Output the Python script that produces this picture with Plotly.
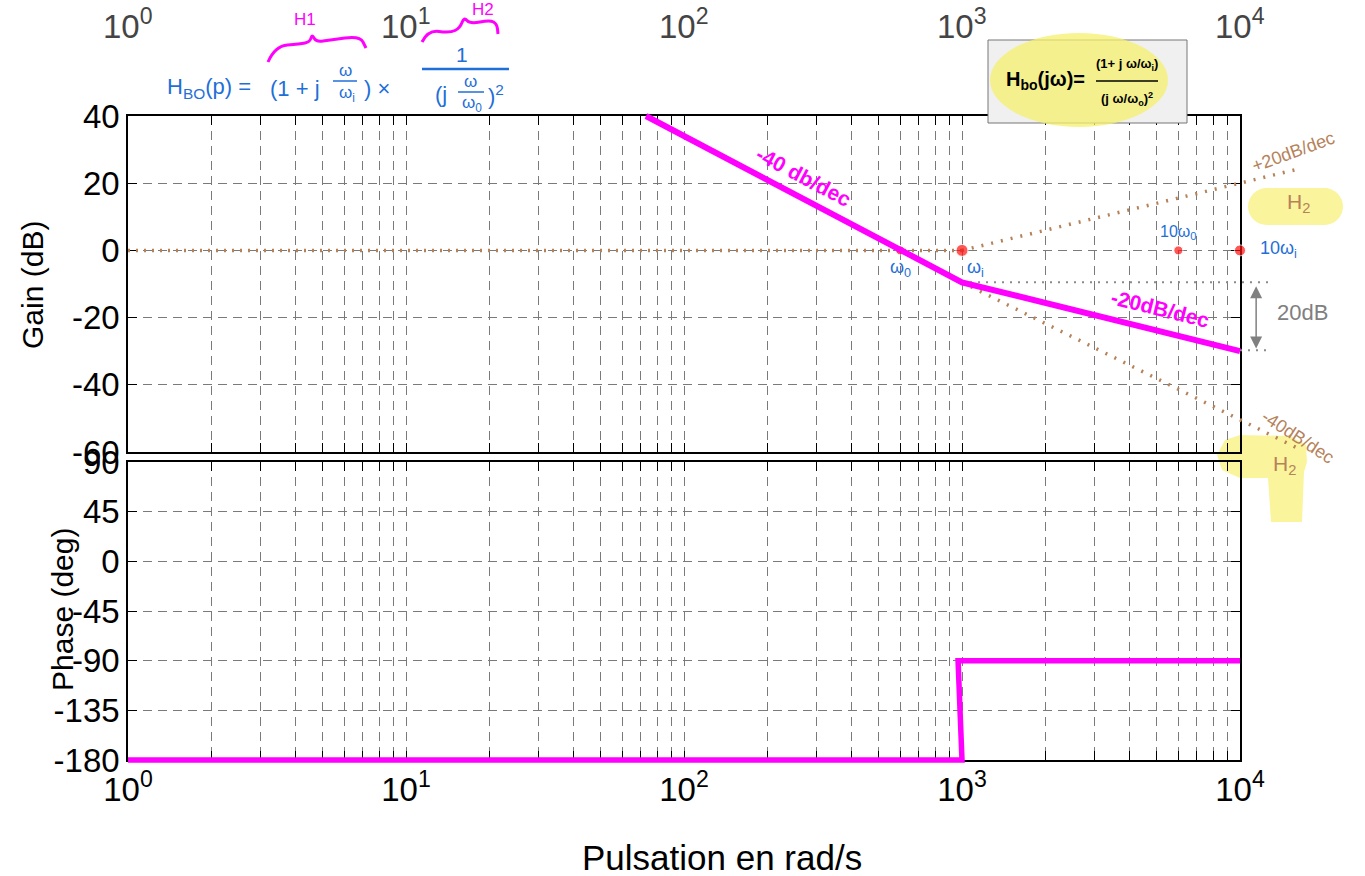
import math
import plotly.graph_objects as go

# ---------------- data ----------------
decades = [1, 10, 100, 1000, 10000]
decade_labels = ["10<sup>0</sup>", "10<sup>1</sup>", "10<sup>2</sup>", "10<sup>3</sup>", "10<sup>4</sup>"]
minor_vals = [k * 10 ** d for d in range(4) for k in range(2, 10)]
gain_ticks = [-60, -40, -20, 0, 20, 40]
phase_ticks = [-180, -135, -90, -45, 0, 45, 90]

gain_w = [73, 1000, 10000]            # asymptotic gain (magenta)
gain_db = [40, -9.5, -30]
phase_w = [1, 1000, 968, 10000]       # asymptotic phase (magenta)
phase_deg = [-180, -180, -90, -90]

flat_w = [1, 1000]                    # 0 dB asymptote (brown dotted)
flat_db = [0, 0]
h1_w = [1000, 15800]                  # +20 dB/dec asymptote
h1_db = [0, 24]
h2_w = [1000, 16700]                  # -40 dB/dec asymptote
h2_db = [-9.5, -59.5]
ref_hi_w = [1000, 13000]              # gray dotted references
ref_hi_db = [-9.5, -9.5]
ref_lo_w = [10000, 13000]
ref_lo_db = [-29.7, -29.7]
pts_w = [600, 1000, 6000, 10000]      # w0, wi, 10w0, 10wi
pts_db = [0, 0, 0, 0]
pts_size = [9, 12, 9, 11]

# ---------------- geometry ----------------
W, H = 1365, 876
def fx(p): return p / W
def fy(p): return 1 - p / H

xd = [fx(128), fx(1240)]
gd = [fy(452), fy(116)]
pd = [fy(760), fy(462)]

def ext(lo, hi, d):
    span = (hi - lo) / (d[1] - d[0])
    return [lo - d[0] * span, hi + (1 - d[1]) * span]

ox_range = ext(0, 4, xd)
oyg_range = ext(-60, 40, gd)
oyp_range = ext(-180, 90, pd)

FONT = "Liberation Sans, Arial, sans-serif"
MAG = "#ff00ff"
BROWN = "#b5825a"
BLUE = "#1f6fd8"
GRAYA = "#808080"
YEL = "#faf59c"

fig = go.Figure()

# invisible helpers so both framed subplots exist
fig.add_trace(go.Scatter(x=decades[:1], y=gain_ticks[:1], xaxis="x", yaxis="y", mode="markers",
                         marker=dict(opacity=0), hoverinfo="skip"))
fig.add_trace(go.Scatter(x=decades[:1], y=phase_ticks[:1], xaxis="x2", yaxis="y2", mode="markers",
                         marker=dict(opacity=0), hoverinfo="skip"))

# overlay traces (x3 with y3 = gain, y4 = phase)
fig.add_trace(go.Scatter(x=flat_w, y=flat_db, xaxis="x3", yaxis="y3", mode="lines",
                         line=dict(color=BROWN, width=3.5, dash="2px,6px")))
fig.add_trace(go.Scatter(x=h1_w, y=h1_db, xaxis="x3", yaxis="y3", mode="lines",
                         line=dict(color=BROWN, width=3.5, dash="2px,8px")))
fig.add_trace(go.Scatter(x=h2_w, y=h2_db, xaxis="x3", yaxis="y3", mode="lines",
                         line=dict(color=BROWN, width=3.5, dash="2px,8px")))
fig.add_trace(go.Scatter(x=ref_hi_w, y=ref_hi_db, xaxis="x3", yaxis="y3", mode="lines",
                         line=dict(color="#8a8a8a", width=2, dash="2px,6px")))
fig.add_trace(go.Scatter(x=ref_lo_w, y=ref_lo_db, xaxis="x3", yaxis="y3", mode="lines",
                         line=dict(color="#8a8a8a", width=2, dash="2px,6px")))
fig.add_trace(go.Scatter(x=pts_w, y=pts_db, xaxis="x3", yaxis="y3", mode="markers",
                         marker=dict(color="#ff1010", size=pts_size)))
fig.add_trace(go.Scatter(x=gain_w, y=gain_db, xaxis="x3", yaxis="y3", mode="lines",
                         line=dict(color=MAG, width=6)))
fig.add_trace(go.Scatter(x=phase_w, y=phase_deg, xaxis="x3", yaxis="y4", mode="lines",
                         line=dict(color=MAG, width=5.5)))

grid = dict(showgrid=True, gridcolor="#7a7a7a", gridwidth=1, griddash="9px,6px")
frame = dict(showline=True, linecolor="black", linewidth=1.5, mirror="ticks",
             ticks="inside", ticklen=9, tickcolor="black", tickwidth=1, zeroline=False,
             automargin=False)
minor = dict(tickvals=minor_vals, ticks="inside", ticklen=9, tickcolor="black",
             showgrid=True, gridcolor="#7a7a7a", gridwidth=1, griddash="9px,6px")
tf = dict(family=FONT, size=33, color="black")

layout = dict(
    template="none",
    width=W, height=H, margin=dict(l=0, r=0, t=0, b=0, pad=0, autoexpand=False),
    paper_bgcolor="white", plot_bgcolor="rgba(0,0,0,0)", showlegend=False,
    font=dict(family=FONT),
    xaxis=dict(type="log", range=[0, 4], domain=xd, anchor="y", tickvals=decades,
               showticklabels=False, minor=minor, **grid, **frame),
    yaxis=dict(range=[-60, 40], domain=gd, anchor="x", tickvals=gain_ticks,
               ticktext=[str(v) for v in gain_ticks], tickfont=tf, **grid, **frame),
    xaxis2=dict(type="log", range=[0, 4], domain=xd, anchor="y2", tickvals=decades,
                ticktext=decade_labels, tickfont=tf,
                minor=minor, **grid, **frame),
    yaxis2=dict(range=[-180, 90], domain=pd, anchor="x2", tickvals=phase_ticks,
                ticktext=[str(v) for v in phase_ticks], tickfont=tf, **grid, **frame),
    xaxis3=dict(type="log", range=ox_range, domain=[0, 1], anchor="y3", visible=False,
                fixedrange=True, automargin=False),
    yaxis3=dict(range=oyg_range, domain=[0, 1], anchor="x3", visible=False, fixedrange=True,
                automargin=False),
    yaxis4=dict(range=oyp_range, domain=[0, 1], anchor="x3", overlaying="y3",
                visible=False, fixedrange=True, automargin=False),
)
fig.update_layout(**layout)

# ---------------- decorations ----------------
def path(points):
    s = "M %.5f %.5f" % (fx(points[0][0]), fy(points[0][1]))
    for p in points[1:]:
        s += " L %.5f %.5f" % (fx(p[0]), fy(p[1]))
    return s

def curve(points):
    s = "M %.5f %.5f" % (fx(points[0][0]), fy(points[0][1]))
    for i in range(1, len(points) - 1):
        mx = (points[i][0] + points[i + 1][0]) / 2
        my = (points[i][1] + points[i + 1][1]) / 2
        s += " Q %.5f %.5f %.5f %.5f" % (fx(points[i][0]), fy(points[i][1]), fx(mx), fy(my))
    s += " L %.5f %.5f" % (fx(points[-1][0]), fy(points[-1][1]))
    return s

shapes = []
shapes.append(dict(type="rect", xref="paper", yref="paper", x0=fx(1266), x1=fx(1325),
                   y0=fy(225), y1=fy(188), fillcolor=YEL, line_width=0, layer="below"))
shapes.append(dict(type="circle", xref="paper", yref="paper", x0=fx(1248), x1=fx(1285),
                   y0=fy(225), y1=fy(188), fillcolor=YEL, line_width=0, layer="below"))
shapes.append(dict(type="circle", xref="paper", yref="paper", x0=fx(1306), x1=fx(1343),
                   y0=fy(225), y1=fy(188), fillcolor=YEL, line_width=0, layer="below"))
blob = [(1240, 435), (1290, 436), (1306, 445), (1307, 462), (1304, 472), (1302, 522),
        (1271, 522), (1268, 478), (1240, 478), (1222, 470), (1217, 455), (1225, 440), (1240, 435)]
shapes.append(dict(type="path", xref="paper", yref="paper", path=path(blob) + " Z",
                   fillcolor=YEL, line_width=0, layer="below"))
shapes.append(dict(type="rect", xref="paper", yref="paper", x0=fx(988), x1=fx(1187),
                   y0=fy(123), y1=fy(40), fillcolor="#f0f0f0", line=dict(color="#777777", width=1),
                   layer="above"))
shapes.append(dict(type="circle", xref="paper", yref="paper", x0=fx(990), x1=fx(1168),
                   y0=fy(127), y1=fy(33), fillcolor="rgba(246,240,110,0.75)", line_width=0,
                   layer="above"))
shapes.append(dict(type="line", xref="paper", yref="paper", x0=fx(1096), x1=fx(1158),
                   y0=fy(81), y1=fy(81), line=dict(color="black", width=1.5), layer="above"))
# blue handwritten fraction lines
shapes.append(dict(type="line", xref="paper", yref="paper", x0=fx(422), x1=fx(509),
                   y0=fy(69), y1=fy(69), line=dict(color=BLUE, width=2.5)))
shapes.append(dict(type="line", xref="paper", yref="paper", x0=fx(333), x1=fx(357),
                   y0=fy(81), y1=fy(81), line=dict(color=BLUE, width=1.5)))
shapes.append(dict(type="line", xref="paper", yref="paper", x0=fx(458), x1=fx(484),
                   y0=fy(92), y1=fy(92), line=dict(color=BLUE, width=1.5)))
brace1 = [(268, 62), (275, 46), (300, 44), (310, 42), (312, 34), (316, 42), (330, 40), (360, 36), (366, 48)]
brace2 = [(422, 42), (428, 30), (450, 33), (460, 28), (464, 17), (470, 24), (490, 20), (497, 24), (498, 34)]
for b in (brace1, brace2):
    shapes.append(dict(type="path", xref="paper", yref="paper", path=curve(b),
                       line=dict(color=MAG, width=3)))
fig.update_layout(shapes=shapes)

anns = []
def ann(text, x, y, size, color, angle=0, xanchor="center", yanchor="middle"):
    anns.append(dict(text=text, x=fx(x), y=fy(y), xref="paper", yref="paper", showarrow=False,
                     font=dict(family=FONT, size=size, color=color), textangle=angle,
                     xanchor=xanchor, yanchor=yanchor))

# top decade labels (from a plot above, cut off) placed with the x scale
for v, lab in zip(decades, decade_labels):
    anns.append(dict(text=lab, x=math.log10(v), xref="x", y=fy(24), yref="paper",
                     showarrow=False, font=dict(family=FONT, size=33, color="#444444"),
                     xanchor="center", yanchor="middle"))

# axis titles
ann("Gain (dB)", 32, 285, 30, "black", angle=-90)
ann("Phase (deg)", 62, 610, 30, "black", angle=-90)
ann("Pulsation en rad/s", 722, 857, 35, "black")
ann("-180", 110, 8, 33, "#444444", xanchor="right", yanchor="bottom")

# blue handwritten formula
ann("H<sub>BO</sub>(p) =", 165, 88, 22, BLUE, xanchor="left")
ann("(1 + j", 268, 88, 22, BLUE, xanchor="left")
ann("ω", 345, 70, 17, BLUE)
ann("ω<sub>i</sub>", 347, 94, 17, BLUE)
ann(") ×", 362, 88, 22, BLUE, xanchor="left")
ann("1", 462, 54, 21, BLUE)
ann("(j", 441, 95, 22, BLUE)
ann("ω", 470, 82, 17, BLUE)
ann("ω<sub>0</sub>", 472, 104, 17, BLUE)
ann(")<sup>2</sup>", 496, 95, 22, BLUE)
ann("H1", 305, 20, 17, MAG)
ann("H2", 483, 9, 17, MAG)

# formula box text
ann("<b>H<sub>bo</sub>(jω)=</b>", 1045, 80, 20, "black")
ann("<b>(1+ j ω/ω<sub>i</sub>)</b>", 1127, 64, 13, "black")
ann("<b>(j ω/ω<sub>o</sub>)<sup>2</sup></b>", 1127, 99, 13, "black")

# slope labels
ann("<b>-40 db/dec</b>", 804, 176, 21, MAG, angle=28)
ann("<b>-20dB/dec</b>", 1160, 309, 21, MAG, angle=14)
ann("+20dB/dec", 1293, 152, 18, BROWN, angle=-20)
ann("-40dB/dec", 1298, 437, 18, BROWN, angle=33)
ann("H<sub>2</sub>", 1298, 203, 21, BROWN)
ann("H<sub>2</sub>", 1284, 465, 21, BROWN)
ann("20dB", 1302, 312, 22, GRAYA)

# pulsation labels
ann("ω<sub>0</sub>", 900, 268, 18, BLUE)
ann("ω<sub>i</sub>", 975, 268, 18, BLUE)
ann("10ω<sub>0</sub>", 1178, 232, 16, BLUE)
ann("10ω<sub>i</sub>", 1278, 250, 18, BLUE)

anns.append(dict(xref="x3", yref="y3", axref="x3", ayref="y3",
                 x=math.log10(11430), y=-29.2, ax=math.log10(11430), ay=-10.2,
                 showarrow=True, arrowhead=2, arrowside="end+start", arrowsize=1.6,
                 arrowwidth=1.5, arrowcolor=GRAYA, text=""))
fig.update_layout(annotations=anns)

fig.write_html("out.html", config={"displayModeBar": False},
               post_script="document.body.style.margin='0px';")
